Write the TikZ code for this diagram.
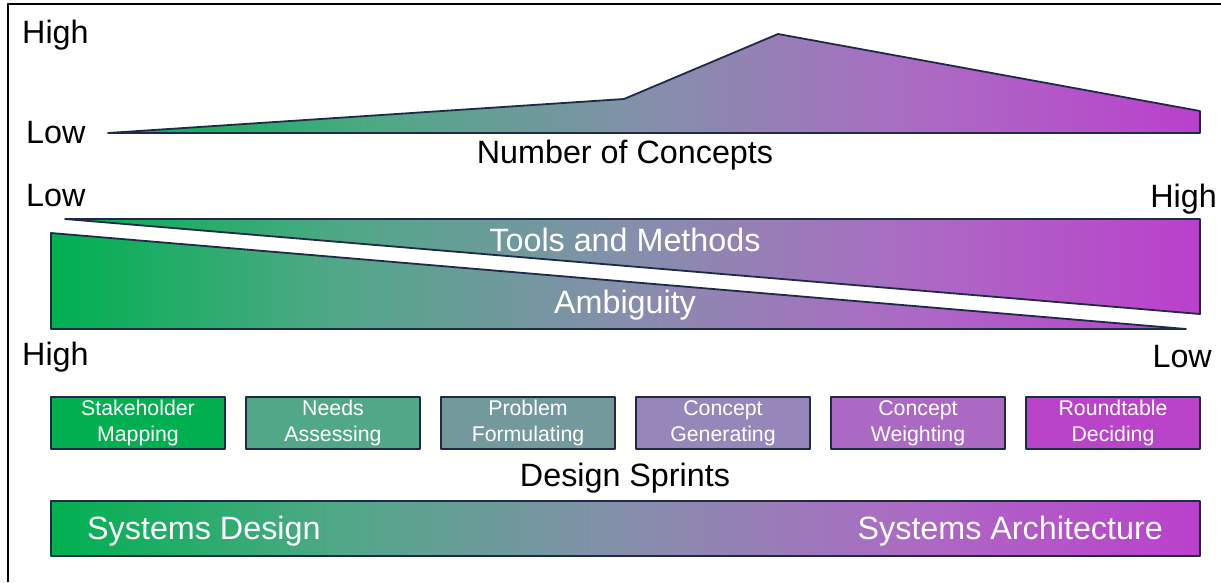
\documentclass[tikz,border=0pt]{standalone}
\usepackage{fontspec}
\setmainfont{Liberation Sans}
\definecolor{edge}{RGB}{31,42,72}
% sprint box fills, green to purple
\definecolor{sp1}{RGB}{0,176,80}
\definecolor{sp2}{RGB}{80,168,135}
\definecolor{sp3}{RGB}{115,153,156}
\definecolor{sp4}{RGB}{151,134,186}
\definecolor{sp5}{RGB}{172,105,196}
\definecolor{sp6}{RGB}{185,68,202}
% green -> slate -> purple, stops at 25bp..75bp span the path
\pgfdeclarehorizontalshading{greenpurple}{100bp}{
	rgb(0bp)=(0,.69,.314); rgb(25bp)=(0,.69,.314);
	rgb(37.5bp)=(.314,.659,.529);
	rgb(50bp)=(.522,.561,.671);
	rgb(62.5bp)=(.675,.416,.769);
	rgb(75bp)=(.729,.251,.8); rgb(100bp)=(.729,.251,.8)}
\begin{document}
\begin{tikzpicture}[x=1pt, y=-1pt, line join=round,
		lbl/.style={font=\fontsize{32.3}{38}\selectfont, inner sep=0pt},
		grad/.style={draw=edge, line width=1.8pt, shading=greenpurple},
		sprint/.style={draw=edge, line width=1.8pt, minimum width=174pt, minimum height=52pt, inner sep=0pt,
			text=white, align=center, font=\fontsize{21.3}{26}\selectfont}]
		\useasboundingbox (0,0) rectangle (1221,582);
		\draw [line width=1.8pt] (8,582) -- (8,4) -- (1221,4);
		
		% number of concepts
		\coordinate (c0) at (108,133);
		\coordinate (c1) at (624,99);     % knee
		\coordinate (c2) at (778,34);     % peak
		\coordinate (c3) at (1200,111);
		\coordinate (c4) at (1200,133);
		\shadedraw [grad] (c0) -- (c1) -- (c2) -- (c3) -- (c4) -- cycle;
		\node [lbl, anchor=base west] (hi1) at (22,43) {High};
		\node [lbl, anchor=base west] (lo1) at (26,143) {Low};
		\node [lbl, anchor=base] (noc) at (625,163) {Number of Concepts};
		
		% tools and methods / ambiguity wedges
		\coordinate (t0) at (65,219);
		\coordinate (t1) at (1200,219);
		\coordinate (t2) at (1200,314);
		\shadedraw [grad] (t0) -- (t1) -- (t2) -- cycle;
		\coordinate (a0) at (51,233);
		\coordinate (a1) at (1186,329);
		\coordinate (a2) at (51,329);
		\shadedraw [grad] (a0) -- (a1) -- (a2) -- cycle;
		\node [lbl, text=white, anchor=base] (tam) at (625,251) {Tools and Methods};
		\node [lbl, text=white, anchor=base] (amb) at (625,313) {Ambiguity};
		\node [lbl, anchor=base west] (lo2) at (26,206) {Low};
		\node [lbl, anchor=base east] (hi2) at (1217,207) {High};
		\node [lbl, anchor=base west] (hi3) at (22,365) {High};
		\node [lbl, anchor=base east] (lo3) at (1212,367) {Low};
		
		% design sprints
		\node [sprint, fill=sp1] (stake) at (138,423) {Stakeholder\\Mapping};
		\node [sprint, fill=sp2] (needs) at (333,423) {Needs\\Assessing};
		\node [sprint, fill=sp3] (prob) at (528,423) {Problem\\Formulating};
		\node [sprint, fill=sp4] (cgen) at (723,423) {Concept\\Generating};
		\node [sprint, fill=sp5] (cweight) at (918,423) {Concept\\Weighting};
		\node [sprint, fill=sp6] (round) at (1113,423) {Roundtable\\Deciding};
		\node [lbl, anchor=base] (ds) at (625,486) {Design Sprints};
		
		% systems bar
		\shadedraw [grad] (51,501) rectangle (1200,556);
		\node [lbl, text=white, anchor=base west] (sysd) at (87,539) {Systems Design};
		\node [lbl, text=white, anchor=base east] (sysa) at (1163,539) {Systems Architecture};
\end{tikzpicture}
\end{document}
